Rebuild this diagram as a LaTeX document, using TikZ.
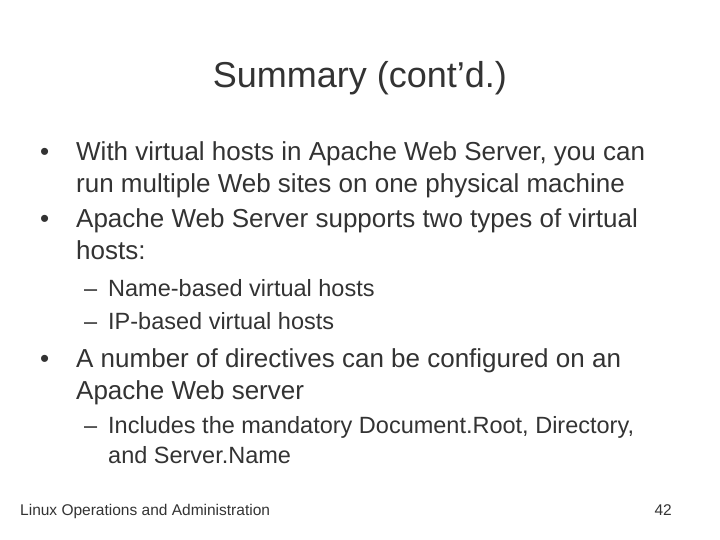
\documentclass[tikz,border=0pt]{standalone}
\usepackage{fontspec}
\setmainfont{Liberation Sans}
\begin{document}
\begin{tikzpicture}[x=1pt,y=-1pt,
  t/.style={anchor=base west,inner sep=0pt,text=black!80},
  big/.style={t,font=\fontsize{26}{30}\selectfont},
  sub/.style={t,font=\fontsize{23.5}{27}\selectfont},
  foot/.style={t,font=\fontsize{15.5}{18}\selectfont}]
\useasboundingbox[fill=white] (0,0) rectangle (720,540);
\node[t,anchor=base,font=\fontsize{36}{40}\selectfont] (title) at (360,88) {Summary (cont’d.)};
\node[big] (b1) at (40,161) {•};
\node[big] (l1) at (76,161) {With virtual hosts in Apache Web Server, you can};
\node[big] (l2) at (76,193) {run multiple Web sites on one physical machine};
\node[big] (b2) at (40,227) {•};
\node[big] (l3) at (76,227) {Apache Web Server supports two types of virtual};
\node[big] (l4) at (76,259) {hosts:};
\node[sub] (d1) at (84,296) {–};
\node[sub] (s1) at (108,296) {Name-based virtual hosts};
\node[sub] (d2) at (84,329) {–};
\node[sub] (s2) at (108,329) {IP-based virtual hosts};
\node[big] (b3) at (40,367) {•};
\node[big] (l5) at (76,367) {A number of directives can be configured on an};
\node[big] (l6) at (76,399) {Apache Web server};
\node[sub] (d3) at (84,433) {–};
\node[sub] (s3) at (108,433) {Includes the mandatory Document.Root, Directory,};
\node[sub] (s4) at (108,463) {and Server.Name};
\node[foot] (f1) at (20,515) {Linux Operations and Administration};
\node[foot,anchor=base east] (f2) at (672,515) {42};
\end{tikzpicture}
\end{document}
